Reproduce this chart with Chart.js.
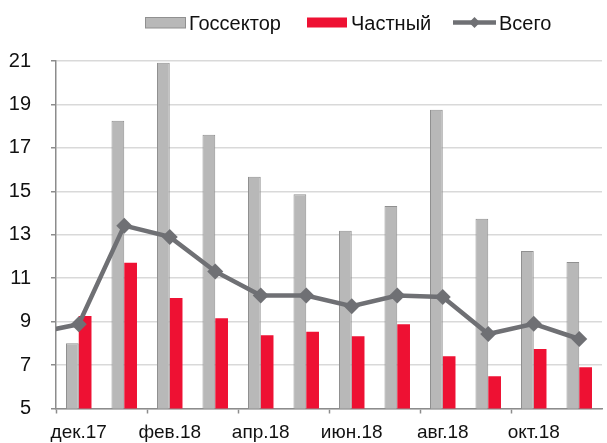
<!DOCTYPE html>
<html>
<head>
<meta charset="utf-8">
<script src="https://cdn.jsdelivr.net/npm/chart.js@4.4.1/dist/chart.umd.min.js"></script>
<style>
  html, body { margin: 0; padding: 0; background: #fff; overflow: hidden; }
  #wrap { position: relative; width: 610px; height: 443px; }
</style>
</head>
<body>
<div id="wrap"><canvas id="chart"></canvas></div>
<script>
// первая категория (ноя.17) скрыта за левым краем, нужна только для начала линии
const months = ["ноя.17", "дек.17", "янв.18", "фев.18", "мар.18", "апр.18", "май.18",
                "июн.18", "июл.18", "авг.18", "сен.18", "окт.18", "ноя.18"];
const gov = [null, 8.0, 18.25, 20.92, 17.6, 15.67, 14.87, 13.18, 14.32, 18.76, 13.74, 12.25, 11.75];
const priv = [null, 9.26, 11.71, 10.09, 9.16, 8.37, 8.53, 8.33, 8.88, 7.41, 6.48, 7.74, 6.9];
const total = [8.45, 8.88, 13.42, 12.9, 11.31, 10.2, 10.2, 9.71, 10.2, 10.13, 8.43, 8.9, 8.2];
const yTicks = [5, 7, 9, 11, 13, 15, 17, 19, 21];

const GRAY = "#b8b8b8", GRAY_EDGE = "#909090", RED = "#ee1133", LINE = "#6f7074";
const FONT = '"Liberation Sans", Arial, sans-serif';

// легенда сверху: прямоугольники + линия с ромбом
const topLegend = {
    id: "topLegend",
    afterDraw(chart) {
        const ctx = chart.ctx;
        ctx.save();
        ctx.font = "20px " + FONT;
        ctx.textBaseline = "alphabetic";

        ctx.fillStyle = GRAY;
        ctx.fillRect(145.5, 17.5, 40, 10.5);
        ctx.strokeStyle = GRAY_EDGE;
        ctx.lineWidth = 1;
        ctx.strokeRect(145.5, 17.5, 40, 10.5);
        ctx.fillStyle = "#111";
        ctx.fillText("Госсектор", 189, 30);

        ctx.fillStyle = RED;
        ctx.fillRect(307, 17.5, 40, 10);
        ctx.fillStyle = "#111";
        ctx.fillText("Частный", 351, 30);

        ctx.strokeStyle = LINE;
        ctx.lineWidth = 4.5;
        ctx.beginPath();
        ctx.moveTo(453, 22.5);
        ctx.lineTo(496, 22.5);
        ctx.stroke();
        ctx.fillStyle = LINE;
        ctx.beginPath();
        ctx.moveTo(474.5 - 5.5, 22.5);
        ctx.lineTo(474.5, 17);
        ctx.lineTo(474.5 + 5.5, 22.5);
        ctx.lineTo(474.5, 28);
        ctx.closePath();
        ctx.fill();
        ctx.fillStyle = "#111";
        ctx.fillText("Всего", 499, 30);
        ctx.restore();
    }
};

new Chart(document.getElementById("chart"), {
    data: {
        labels: months,
        datasets: [
            {
                type: "line",
                label: "Всего",
                data: total,
                borderColor: LINE,
                backgroundColor: LINE,
                borderWidth: 4.5,
                tension: 0,
                pointStyle: "rectRot",
                pointRadius: ctx => ctx.dataIndex === 0 ? 0 : 8,
                pointBorderWidth: 0,
                pointBackgroundColor: LINE,
                order: 0
            },
            {
                type: "bar",
                label: "Госсектор",
                data: gov,
                backgroundColor: GRAY,
                borderColor: GRAY_EDGE,
                borderWidth: 1,
                categoryPercentage: 0.56,
                barPercentage: 1,
                order: 1
            },
            {
                type: "bar",
                label: "Частный",
                data: priv,
                backgroundColor: RED,
                borderWidth: 0,
                categoryPercentage: 0.56,
                barPercentage: 1,
                order: 1
            }
        ]
    },
    plugins: [topLegend],
    options: {
        responsive: true,
        maintainAspectRatio: false,
        animation: false,
        layout: { padding: { top: 61, right: 0, left: 0, bottom: 0 } },
        plugins: {
            legend: { display: false },
            tooltip: { enabled: false }
        },
        scales: {
            x: {
                min: "дек.17",
                offset: true,
                afterFit: s => { s.height = 34.5; },
                border: { color: "#8c8c8c", width: 1.5 },
                grid: {
                    offset: true,
                    drawOnChartArea: false,
                    tickLength: 5,
                    tickWidth: 1.5,
                    tickColor: c => c.index % 2 === 0 ? "#8c8c8c" : "rgba(0,0,0,0)"
                },
                ticks: {
                    autoSkip: false,
                    maxRotation: 0,
                    padding: 8,
                    color: "#111",
                    font: { family: FONT, size: 19 },
                    callback: function (val, i) {
                        return i % 2 === 0 ? this.getLabelForValue(val) : "";
                    }
                }
            },
            y: {
                min: 5,
                max: 21,
                afterFit: s => { s.width = 56; },
                afterBuildTicks: s => { s.ticks = yTicks.map(v => ({ value: v })); },
                border: { color: "#8c8c8c", width: 1.5 },
                grid: {
                    color: "#d9d9d9",
                    lineWidth: 1.5,
                    tickLength: 5,
                    tickColor: "#8c8c8c"
                },
                ticks: {
                    padding: 20,
                    color: "#111",
                    font: { family: FONT, size: 20 }
                }
            }
        }
    }
});
</script>
</body>
</html>
